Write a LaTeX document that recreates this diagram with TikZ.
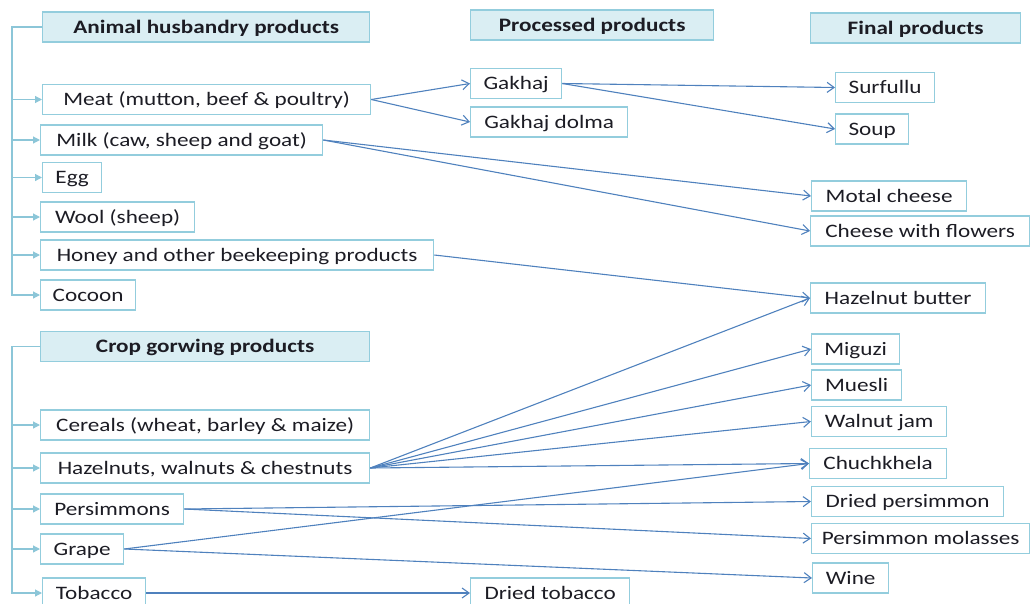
\documentclass[tikz,border=0pt]{standalone}
\usepackage{fontspec}
\setmainfont{Carlito}[FakeStretch=1.22]
\usetikzlibrary{arrows.meta}

\definecolor{boxline}{RGB}{147,205,221}
\definecolor{headfill}{RGB}{218,238,243}
\definecolor{linkblue}{RGB}{79,129,189}
\definecolor{treeblue}{RGB}{140,198,216}
\definecolor{txt}{RGB}{28,28,36}

\tikzset{
  item/.style={draw=boxline, line width=1.3pt, text=txt, anchor=west,
    minimum height=30pt, inner xsep=10pt, text height=14pt, text depth=2pt,
    font=\fontsize{19}{22}\selectfont},
  header/.style={item, fill=headfill, font=\fontsize{19}{22}\selectfont\bfseries},
  link/.style={draw=linkblue, line width=1.1pt,
    -{Straight Barb[length=7pt,width=10pt,line width=1.1pt]}},
  tree/.style={draw=treeblue, line width=1.2pt},
  treearrow/.style={tree, -{Triangle[length=7pt,width=7pt]}}
}

\begin{document}
\begin{tikzpicture}[x=1pt,y=-1pt]
\clip (0,0) rectangle (1031,603) ;

\node [header, minimum width=327pt] (ahead) at (42,27) {Animal husbandry products} ;
\node [header, minimum width=243pt] (phead) at (470,25) {Processed products} ;
\node [header, minimum width=210pt] (fhead) at (810,28) {Final products} ;
\node [header, minimum width=329pt] (chead) at (40,346.5) {Crop gorwing products} ;

\node [item, minimum width=328pt] (meat) at (42,99.5) {Meat (mutton, beef \& poultry)} ;
\node [item, minimum width=282pt] (milk) at (40,140) {Milk (caw, sheep and goat)} ;
\node [item, minimum width=59pt] (egg) at (42,177.5) {Egg} ;
\node [item, minimum width=154pt] (wool) at (40,217) {Wool (sheep)} ;
\node [item, minimum width=393pt] (honey) at (40,255) {Honey and other beekeeping products} ;
\node [item, minimum width=95pt] (cocoon) at (40,295) {Cocoon} ;

\node [item, minimum width=329pt] (cereals) at (40,425) {Cereals (wheat, barley \& maize)} ;
\node [item, minimum width=329pt] (nuts) at (40,468) {Hazelnuts, walnuts \& chestnuts} ;
\node [item, minimum width=143pt] (pers) at (40,509) {Persimmons} ;
\node [item, minimum width=83pt] (grape) at (40,549) {Grape} ;
\node [item, minimum width=103pt] (tobacco) at (42,593) {Tobacco} ;

\node [item, minimum width=91pt] (gakhaj) at (470,83.5) {Gakhaj} ;
\node [item, minimum width=157pt] (dolma) at (470,122) {Gakhaj dolma} ;
\node [item, minimum width=159pt] (dtob) at (470,593) {Dried tobacco} ;

\node [item, minimum width=99pt] (surfullu) at (835,87.5) {Surfullu} ;
\node [item, minimum width=73pt] (soup) at (835,129) {Soup} ;
\node [item, minimum width=155pt] (motal) at (811,196) {Motal cheese} ;
\node [item, minimum width=219pt] (flowers) at (810,231) {Cheese with flowers} ;
\node [item, minimum width=175pt] (hbutter) at (810,298) {Hazelnut butter} ;
\node [item, minimum width=88pt] (miguzi) at (811,349) {Miguzi} ;
\node [item, minimum width=90pt] (muesli) at (811,385) {Muesli} ;
\node [item, minimum width=135pt] (wjam) at (811,421.5) {Walnut jam} ;
\node [item, minimum width=137pt] (chuch) at (809,463.5) {Chuchkhela} ;
\node [item, minimum width=192pt] (dpers) at (811,501.5) {Dried persimmon} ;
\node [item, minimum width=218pt, inner xsep=3pt] (molasses) at (811,538.5) {Persimmon molasses} ;
\node [item, minimum width=76pt] (wine) at (812,578) {Wine} ;

\coordinate (atrunk) at (12,27) ;
\coordinate (ctrunk) at (12,346.5) ;
\draw [treearrow] (ahead.west) -- (atrunk) |- (cocoon.west) ;
\draw [treearrow] (atrunk |- meat.west) -- (meat.west) ;
\draw [treearrow] (atrunk |- milk.west) -- (milk.west) ;
\draw [treearrow] (atrunk |- egg.west) -- (egg.west) ;
\draw [treearrow] (atrunk |- wool.west) -- (wool.west) ;
\draw [treearrow] (atrunk |- honey.west) -- (honey.west) ;
\draw [treearrow] (chead.west) -- (ctrunk) |- (tobacco.west) ;
\draw [treearrow] (ctrunk |- cereals.west) -- (cereals.west) ;
\draw [treearrow] (ctrunk |- nuts.west) -- (nuts.west) ;
\draw [treearrow] (ctrunk |- pers.west) -- (pers.west) ;
\draw [treearrow] (ctrunk |- grape.west) -- (grape.west) ;

\draw [link] (meat.east) -- (gakhaj.west) ;
\draw [link] (meat.east) -- (dolma.west) ;
\draw [link] (gakhaj.east) -- (surfullu.west) ;
\draw [link] (gakhaj.east) -- (soup.west) ;
\draw [link] (milk.east) -- (motal.west) ;
\draw [link] (milk.east) -- (flowers.west) ;
\draw [link] (honey.east) -- (hbutter.west) ;
\draw [link] (nuts.east) -- (hbutter.west) ;
\draw [link] (nuts.east) -- (miguzi.west) ;
\draw [link] (nuts.east) -- (muesli.west) ;
\draw [link] (nuts.east) -- (wjam.west) ;
\draw [link] (nuts.east) -- (chuch.west) ;
\draw [link] (pers.east) -- (dpers.west) ;
\draw [link] (pers.east) -- (molasses.west) ;
\draw [link] (grape.east) -- (chuch.west) ;
\draw [link] (grape.east) -- (wine.west) ;
\draw [link] (tobacco.east) -- (dtob.west) ;

\end{tikzpicture}
\end{document}
